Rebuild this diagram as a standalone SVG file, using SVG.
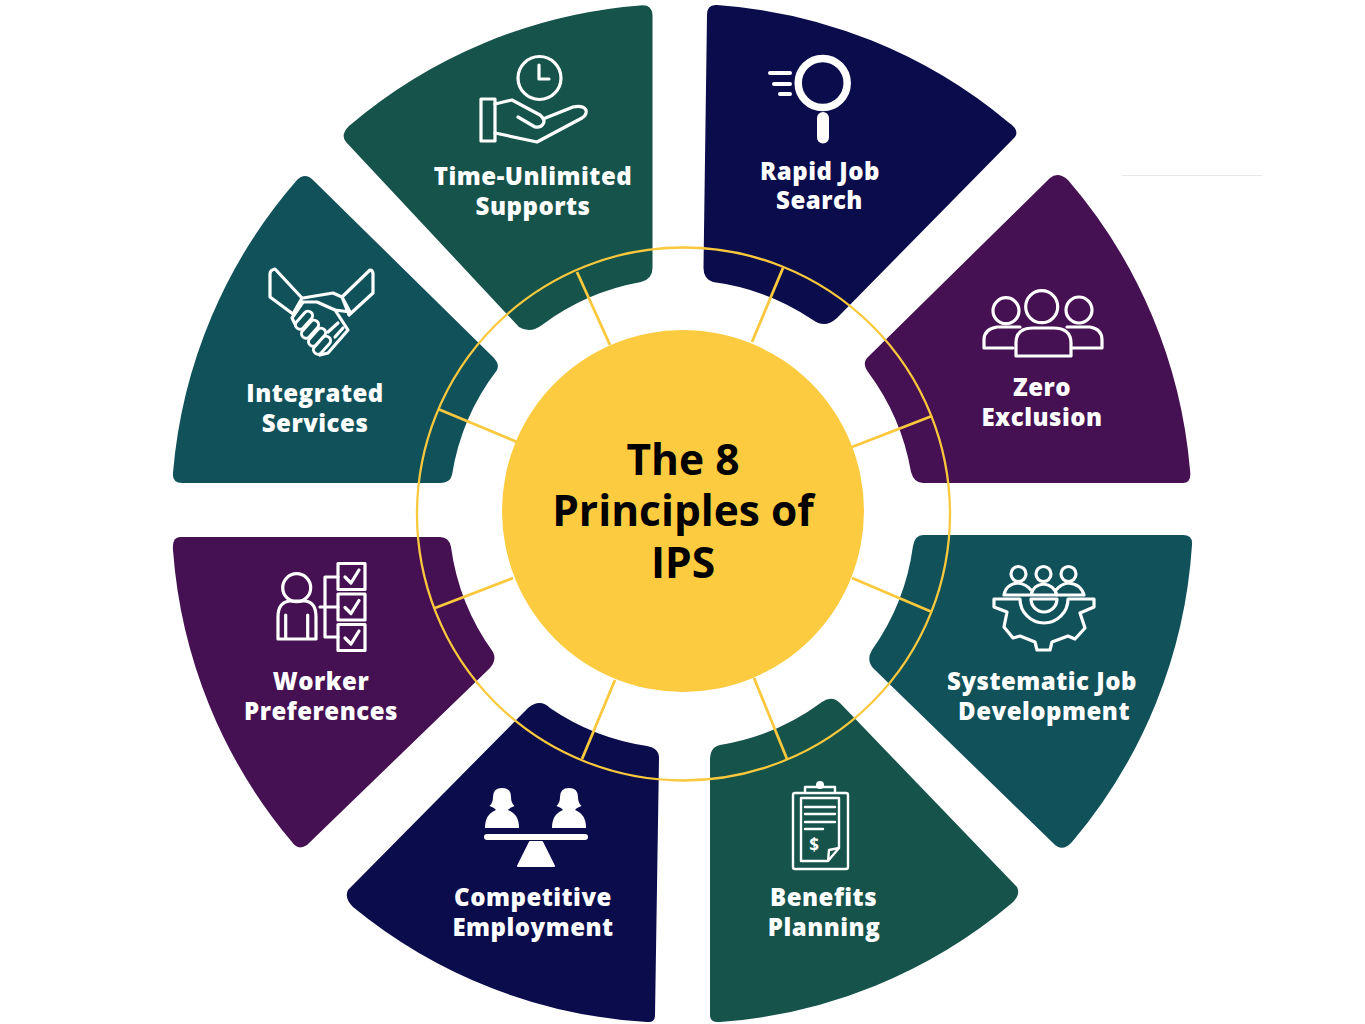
<svg xmlns="http://www.w3.org/2000/svg" xmlns:xlink="http://www.w3.org/1999/xlink" width="1365" height="1024" viewBox="0 0 1365 1024">
<style>
.lbl{font-family:"Open Sans","Liberation Sans",sans-serif;font-weight:800;font-size:24px;fill:#fff;text-anchor:middle;letter-spacing:.5px}
.ttl{font-family:"Open Sans","Liberation Sans",sans-serif;font-weight:700;font-size:42.500px;fill:#000;text-anchor:middle}
.ic{fill:none;stroke:#fff;stroke-width:3.200;stroke-linejoin:round;stroke-linecap:round}
.y{fill:none;stroke:#fac83c}
</style>
<defs>
<g id="person"><path fill="#fff" d="M-12.500 806Q-9 803-9 797Q-9 788 0 788Q9 788 9 797Q9 803 12.500 806Q6 808 5 812L-5 812Q-6 808-12.500 806Z"/><path fill="#fff" d="M-17 828Q-17 814-6 810L6 810Q17 814 17 828Z"/></g>
<rect id="finger" x="0" y="-4.500" width="21" height="9" rx="4.500" fill="#10515a" stroke="#fff" stroke-width="3"/>
</defs>
<rect width="1365" height="1024" fill="#fff"/>
<path d="M1122 175.500H1262" stroke="#e6e6e6" stroke-width="1"/>
<g id="node-time-unlimited"><path fill="#15534b" d="M640 5.500Q652 4 652.500 15L652.500 268Q652.500 279 641 282A233 233 0 0 0 542 325Q530 334 519 327L346 142Q340 135 349 126A510 510 0 0 1 640 5.500Z"/>
<g class="ic"><circle cx="539.500" cy="78" r="21.500"/><path d="M539 65V79H549"/><rect x="481" y="99" width="14" height="42"/><path d="M495 104L512 100L540 115Q546 120 543 124Q541 128 535 127L518 117M543 119L573 107Q583 105 586 110Q587 115 582 118L537 142L495 133"/></g>
<text class="lbl" x="533" y="185">Time-Unlimited</text><text class="lbl" x="533" y="215">Supports</text></g>
<g id="node-rapid-job-search"><path fill="#0b0c4c" d="M717 5Q707 4 707 15L703.500 268Q703.500 279 713 282A233 233 0 0 1 813 320Q825 329 837 318L1015 137Q1020 130 1008 122A510 510 0 0 0 717 5Z"/>
<circle cx="822.700" cy="83" r="24.500" fill="none" stroke="#fff" stroke-width="7.500"/><rect x="817" y="112" width="12" height="31.500" rx="6" fill="#fff"/><path d="M770 73H790M774 84H790M780 94H790" stroke="#fff" stroke-width="4" stroke-linecap="round" fill="none"/>
<text class="lbl" x="820" y="180">Rapid Job</text><text class="lbl" x="819.500" y="209">Search</text></g>
<g id="node-zero-exclusion"><path fill="#451152" d="M1050 178Q1058 171 1068 180A510 510 0 0 1 1190 470Q1192 483 1183 483L923 483Q914 483 911 472A233 233 0 0 0 868 372Q862 364 867 358Z"/>
<g class="ic"><circle cx="1041.700" cy="306.700" r="16"/><path d="M1016 356V343Q1016 328 1033 328H1053Q1071 328 1071 343V356Z"/><circle cx="1006" cy="310.700" r="13"/><path d="M1020 327H997Q984 329 984 340V348H1013"/><circle cx="1079" cy="310" r="13"/><path d="M1067 327H1090Q1102 329 1102 340V348H1073"/></g>
<text class="lbl" x="1042" y="396">Zero</text><text class="lbl" x="1042" y="426">Exclusion</text></g>
<g id="node-systematic-job-development"><path fill="#10515a" d="M923 535H1183Q1193 535 1192 545A510 510 0 0 1 1072 842Q1062 853 1053 843L873 668Q866 660 872 650A233 233 0 0 0 913 546Q915 535 923 535Z"/>
<g class="ic"><circle cx="1018.500" cy="574" r="7.500"/><circle cx="1043.500" cy="574" r="7.500"/><circle cx="1068.500" cy="574" r="7.500"/><path d="M1004 595H1084M1004 595Q1006 584 1018 583Q1026 584 1031 590M1031 595Q1033 585 1043.500 584Q1054 585 1057 595M1056 590Q1061 584 1068 583Q1081 584 1084 595M1020 599H994V607L1007 612L1004 627L1013 638L1020 636L1035 642L1037 650H1050L1052 642L1068 636L1075 639L1085 628L1080 613L1094 607V599H1068M1020 599A24 24 0 0 0 1068 599M1031 599H1057A13 13 0 0 1 1031 599Z"/></g>
<text class="lbl" x="1042" y="690">Systematic Job</text><text class="lbl" x="1044" y="720">Development</text></g>
<g id="node-benefits-planning"><path fill="#15534b" d="M720 745A233 233 0 0 0 822 702Q832 695 840 703L1017 887Q1021 895 1012 903A510 510 0 0 1 720 1022Q710 1023 710 1015V760Q710 747 720 745Z"/>
<g class="ic" style="stroke-width:2.400"><rect x="793" y="793" width="55" height="76" rx="2"/><path d="M805 792V787H835V792M801 798V861H828L839 848V798ZM829 850L839 848L828 861ZM805 807H835M805 814H835M805 822H835M805 829H823"/></g><circle cx="820" cy="785" r="4" fill="#fff"/>
<text x="814" y="851" font-family="Open Sans,Liberation Sans,sans-serif" font-weight="700" font-size="17" fill="#fff" text-anchor="middle">$</text>
<text class="lbl" x="823.500" y="906">Benefits</text><text class="lbl" x="824" y="936">Planning</text></g>
<g id="node-competitive-employment"><path fill="#0b0c4c" d="M528 708Q540 698 550 708A233 233 0 0 0 647 746Q659 748 659 758L655 1015Q655 1023 647 1022A510 510 0 0 1 353 907Q344 898 348 890Z"/>
<use href="#person" x="502"/><use href="#person" x="569"/><rect x="484" y="834" width="104" height="6" rx="3" fill="#fff"/><path fill="#fff" stroke="#fff" stroke-linejoin="round" stroke-width="2" d="M530 842H542L554 866H518Z"/>
<text class="lbl" x="533" y="906">Competitive</text><text class="lbl" x="533" y="936">Employment</text></g>
<g id="node-worker-preferences"><path fill="#451152" d="M180 537H440Q449 537 451 547A233 233 0 0 0 493 652Q497 660 490 668L307 845Q298 851 292 842A510 510 0 0 1 173 550Q172 537 180 537Z"/>
<g class="ic"><circle cx="296.700" cy="587.700" r="14"/><path d="M278 639V617Q278 602 290 601H305Q316 602 316 617V639ZM285.700 615V639M307.700 615V639M320 607H338M325 577V637M325 577H338M325 637H338"/><rect x="338" y="563.500" width="27" height="26"/><rect x="338" y="594" width="27" height="26"/><rect x="338" y="624.500" width="27" height="26"/><path d="M345 577L351 583L359 570M345 607.500L351 613.500L359 600.500M345 638L351 644L359 631"/></g>
<text class="lbl" x="321" y="690">Worker</text><text class="lbl" x="321" y="720">Preferences</text></g>
<g id="node-integrated-services"><path fill="#10515a" d="M297 180Q305 172 313 180L493 357Q500 364 497 370A233 233 0 0 0 452 475Q450 483 440 483H182Q172 483 173 473A510 510 0 0 1 297 180Z"/>
<g class="ic"><path d="M275 269L302 298L293 314L270 297V274Q270 270 275 269ZM370 270Q373 270 373 274V293L349 315L342 297ZM303 298L333 293L342 297L350 312L335 310L317 302L303 302L292 318L296 326M335 310L348 330L328 353L320 355"/><use href="#finger" transform="translate(297 328) rotate(-48)"/><use href="#finger" transform="translate(303 337) rotate(-48)"/><use href="#finger" transform="translate(310 345) rotate(-48)"/><use href="#finger" transform="translate(315 353) rotate(-48)"/><path d="M328 332L338 323M335 337L343 328"/></g>
<text class="lbl" x="315" y="402">Integrated</text><text class="lbl" x="315" y="432">Services</text></g>
<g id="connectors" class="y"><circle cx="683.500" cy="514" r="266.500" stroke-width="2.300"/>
<path stroke-width="2.800" d="M577 272L610 345M783 268L752 342M932 416L852 447M932 612L852 578M787 759L754 678M582 759L615 680M435 608L513 578M438 409L517 442"/></g>
<g id="node-center"><circle cx="683" cy="511" r="181" fill="#fdcb40"/><text class="ttl" x="683" y="475">The 8</text><text class="ttl" x="683" y="526">Principles of</text><text class="ttl" x="683" y="578">IPS</text></g>
</svg>
